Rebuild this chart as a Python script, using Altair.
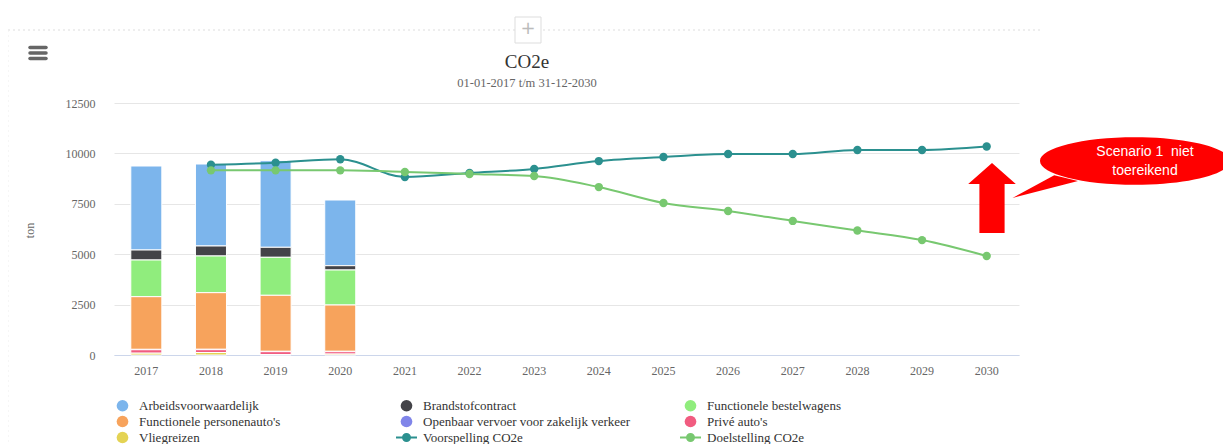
import altair as alt
import pandas as pd

years = [str(y) for y in range(2017, 2031)]
bar_years = ["2017", "2018", "2019", "2020"]

# legend order (Vega fills legend columns top-to-bottom)
series_names = [
    "Arbeidsvoorwaardelijk", "Functionele personenauto's", "Vliegreizen",
    "Brandstofcontract", "Openbaar vervoer voor zakelijk verkeer", "Voorspelling CO2e",
    "Functionele bestelwagens", "Privé auto's", "Doelstelling CO2e",
]
series_colors = [
    "#7cb5ec", "#f7a35c", "#e4d354",
    "#434348", "#8085e9", "#2b908f",
    "#90ed7d", "#f15c80", "#78c870",
]

arbeids = [4167, 4067, 4296, 3258]
brandstof = [496, 496, 496, 214]
bestelwagens = [1819, 1820, 1885, 1736]
personenautos = [2613, 2808, 2778, 2297]
openbaar = [20, 20, 18, 18]
prive = [170, 140, 140, 120]
vliegreizen = [90, 123, 25, 45]

line_years = [str(y) for y in range(2018, 2031)]
voorspelling = [9440, 9540, 9710, 8830, 9030, 9230, 9620, 9820, 9970, 9970, 10170, 10170, 10340]
doelstelling = [9160, 9160, 9160, 9080, 8980, 8880, 8330, 7540, 7140, 6650, 6175, 5700, 4910]

callout_lines = ["Scenario 1\u00a0\u00a0niet", "toereikend"]
title_text = "CO2e"
subtitle_text = "01-01-2017 t/m 31-12-2030"

bar_series = {
    "Arbeidsvoorwaardelijk": arbeids,
    "Brandstofcontract": brandstof,
    "Functionele bestelwagens": bestelwagens,
    "Functionele personenauto's": personenautos,
    "Openbaar vervoer voor zakelijk verkeer": openbaar,
    "Privé auto's": prive,
    "Vliegreizen": vliegreizen,
}
rows = []
for i, (name, vals) in enumerate(bar_series.items()):
    for y, v in zip(bar_years, vals):
        rows.append({"jaar": y, "serie": name, "ton": v, "volg": len(bar_series) - i})
bars_df = pd.DataFrame(rows)

lrows = []
for name, vals in [("Voorspelling CO2e", voorspelling), ("Doelstelling CO2e", doelstelling)]:
    for y, v in zip(line_years, vals):
        lrows.append({"jaar": y, "serie": name, "ton": v})
lines_df = pd.DataFrame(lrows)

FONT = "Liberation Serif"

x_scale = alt.Scale(domain=years, paddingInner=0.52, paddingOuter=0.26)
y_scale = alt.Scale(domain=[0, 12500], nice=False)
color_scale = alt.Scale(domain=series_names, range=series_colors)

line_shape = "M-1.8,0L1.8,0M-0.6,0A0.6,0.6 0 1,0 0.6,0A0.6,0.6 0 1,0 -0.6,0Z"
is_line = "indexof(['Voorspelling CO2e','Doelstelling CO2e'], datum.value) >= 0"

legend = alt.Legend(
    title=None, orient="none", legendX=2, legendY=296, columns=3,
    gridAlign="all", columnPadding=45, rowPadding=1, labelLimit=400,
    symbolType=alt.ExprRef(expr=is_line + " ? '" + line_shape + "' : 'circle'"),
    symbolSize=136,
    symbolStrokeWidth=alt.ExprRef(expr=is_line + " ? 2 : 0"),
    symbolStrokeColor=alt.ExprRef(expr="scale('color', datum.value)"),
    labelFont=FONT, labelFontSize=13, labelColor="#333333", labelOffset=10,
    symbolOpacity=1,
)

x_axis = alt.Axis(title=None, labelAngle=0, ticks=False, domainColor="#ccd6eb",
                  domainWidth=1, labelFont=FONT, labelFontSize=12, labelColor="#666666",
                  labelPadding=10, grid=False)
y_axis = alt.Axis(title="ton", values=[0, 2500, 5000, 7500, 10000, 12500], format="d",
                  domain=False, ticks=False, gridColor="#e6e6e6", labelFont=FONT,
                  labelFontSize=12, labelColor="#666666", labelPadding=19,
                  titleFont=FONT, titleFontSize=12, titleColor="#666666",
                  titleFontWeight="normal", titleX=-78, titleY=127, titleAngle=-90)

bars = alt.Chart(bars_df).mark_bar(stroke="white", strokeWidth=1).encode(
    x=alt.X("jaar:N", scale=x_scale, axis=x_axis),
    y=alt.Y("ton:Q", scale=y_scale, axis=y_axis, stack="zero"),
    color=alt.Color("serie:N", scale=color_scale, legend=legend),
    order=alt.Order("volg:Q"),
)

lines = alt.Chart(lines_df).mark_line(strokeWidth=2, interpolate="monotone").encode(
    x=alt.X("jaar:N", scale=x_scale),
    y=alt.Y("ton:Q", scale=y_scale),
    color=alt.Color("serie:N", scale=color_scale, legend=legend),
)
points = alt.Chart(lines_df).mark_point(filled=True, size=70, opacity=1).encode(
    x=alt.X("jaar:N", scale=x_scale),
    y=alt.Y("ton:Q", scale=y_scale),
    color=alt.Color("serie:N", scale=color_scale, legend=legend),
)

# annotations (callout + arrow), positioned in pixels relative to the plot area
ann = pd.DataFrame({"t": [0]})
ellipse_path = ("M-1,0A1,0.25 0 1,1 1,0A1,0.25 0 1,1 -1,0Z"
                "M-0.85,0.15L-1.29,0.39L-0.6,0.21Z")
callout = alt.Chart(ann).mark_point(filled=True, shape=ellipse_path, size=190 * 190,
                                    color="#ff0000", opacity=1).encode(
    x=alt.value(1021), y=alt.value(58))
callout_text = alt.Chart(ann).mark_text(
    text=callout_lines, font="Liberation Sans", fontSize=14,
    color="white", lineHeight=19, align="center", baseline="middle").encode(
    x=alt.value(1031), y=alt.value(49))
arrow_path = "M0,-1L0.68,-0.4L0.36,-0.4L0.36,1L-0.36,1L-0.36,-0.4L-0.68,-0.4Z"
arrow = alt.Chart(ann).mark_point(filled=True, shape=arrow_path, size=70 * 70,
                                  color="#ff0000", opacity=1).encode(
    x=alt.value(878), y=alt.value(95))

# title and subtitle
title = alt.Chart(ann).mark_text(text=title_text, font=FONT, fontSize=19, color="#333333",
                                 align="center", baseline="middle").encode(
    x=alt.value(413), y=alt.value(-41))
subtitle = alt.Chart(ann).mark_text(text=subtitle_text, font=FONT, fontSize=12.5,
                                    color="#666666", align="center",
                                    baseline="middle").encode(
    x=alt.value(413), y=alt.value(-20))

# Highcharts-like decorations: menu icon, zoom button and dashed line
menu_df = pd.DataFrame({"k": [-55.5, -50, -44.5]})
menu = alt.Chart(menu_df).mark_rule(color="#666666", strokeWidth=3.5, strokeCap="round").encode(
    x=alt.value(-84), x2=alt.value(-68), y=alt.Y("k:Q", scale=None))
dash = alt.Chart(ann).mark_rule(color="#dddddd", strokeDash=[2, 3], strokeWidth=1).encode(
    x=alt.value(-106), x2=alt.value(926), y=alt.value(-73))
vdash = alt.Chart(ann).mark_rule(color="#eeeeee", strokeDash=[2, 3], strokeWidth=1).encode(
    x=alt.value(-106), y=alt.value(-73), y2=alt.value(341))
btn = alt.Chart(ann).mark_point(shape="square", size=26 * 26, filled=True, fill="white",
                                stroke="#dddddd", strokeWidth=1, opacity=1).encode(
    x=alt.value(414), y=alt.value(-73))
btn_plus = alt.Chart(ann).mark_text(text="+", fontSize=18, color="#bbbbbb",
                                    font="DejaVu Sans", baseline="middle").encode(
    x=alt.value(414), y=alt.value(-74))

chart = alt.layer(
    dash, vdash, btn, btn_plus, menu, title, subtitle,
    bars, lines, points, arrow, callout, callout_text
).resolve_scale(color="shared").properties(
    width=905, height=252,
    autosize=alt.AutoSizeParams(type="none"),
    padding={"left": 106, "top": 95, "right": 204, "bottom": 89},
).configure_view(stroke=None).configure_legend(
    labelFont=FONT, labelFontSize=13, labelColor="#333333"
)

chart.save("out.html", embed_options={"renderer": "svg", "actions": False})
